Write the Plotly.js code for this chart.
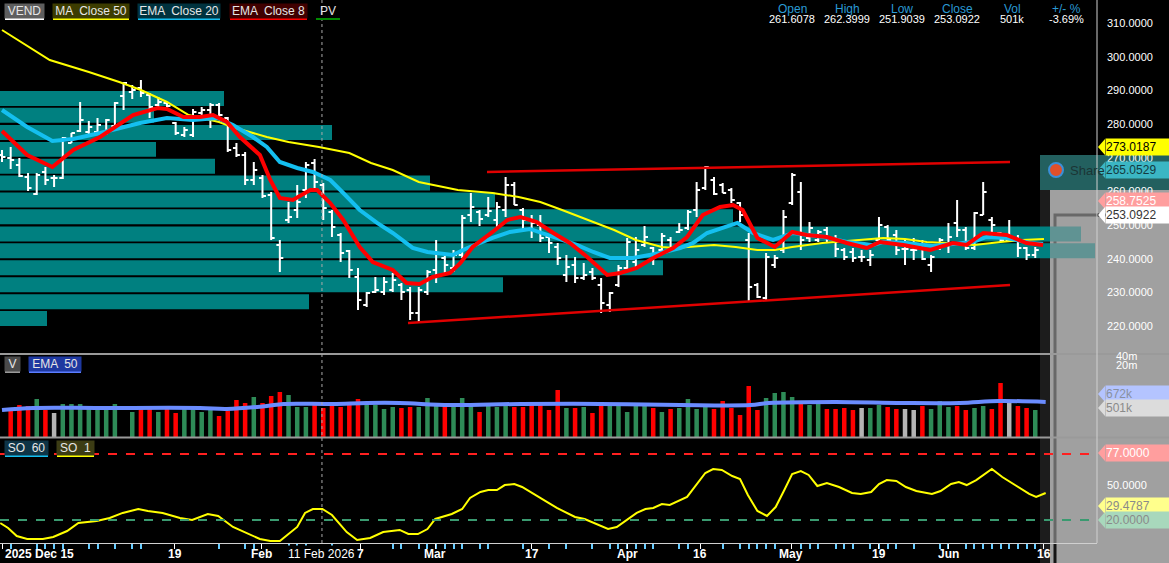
<!DOCTYPE html>
<html><head><meta charset="utf-8">
<script src="https://cdn.plot.ly/plotly-3.0.1.min.js"></script>
<style>html,body{margin:0;padding:0;background:#000;overflow:hidden}#chart{width:1169px;height:563px}</style>
</head><body><div id="chart"></div>
<script>
// ---------- DATA ----------
const highs = [
272.32,273.21,269.94,265.49,265.49,267.27,264.90,276.17,277.36,286.56,
280.92,281.81,281.52,286.56,292.50,291.61,293.09,289.23,288.05,286.56,
280.63,279.14,284.49,285.08,286.27,286.27,282.11,274.39,271.72,268.76,
264.90,259.86,245.61,256.89,261.93,268.76,269.65,262.53,254.51,247.69,
242.65,237.30,230.18,234.63,234.63,235.82,232.85,231.66,231.66,236.71,
245.61,241.16,242.65,253.03,259.56,254.51,258.37,256.89,264.31,262.82,
255.11,253.03,253.03,247.10,244.72,241.16,240.57,238.79,237.30,234.34,
230.18,238.19,246.21,246.50,249.77,243.54,247.69,246.50,250.66,254.51,
262.82,267.57,264.31,262.53,261.04,256.89,247.69,232.85,241.76,241.16,
254.51,265.49,262.82,250.95,248.58,249.47,247.10,243.24,243.24,242.65,
242.65,252.44,250.07,248.58,245.61,246.21,245.61,241.16,246.21,250.66,
257.48,249.47,253.92,262.82,252.44,247.99,251.55,247.10,243.54,243.54];
const lows = [
268.76,266.68,264.31,260.15,258.97,261.93,261.34,263.71,274.39,277.66,
276.17,276.77,276.77,279.14,284.19,287.45,288.05,281.81,285.08,284.78,
276.77,276.17,276.17,282.70,278.85,282.11,271.72,270.24,261.93,261.93,
258.08,245.61,236.12,250.66,252.14,258.08,261.04,251.55,246.50,239.08,
234.34,224.84,225.73,229.88,229.29,230.18,227.81,221.87,220.98,229.29,
232.85,235.82,236.12,240.27,250.95,249.77,252.44,249.47,252.44,256.00,
247.99,246.21,245.02,241.76,238.19,233.15,232.85,233.74,233.74,223.95,
224.25,231.66,236.71,236.71,243.54,238.19,241.76,242.05,247.69,248.58,
252.44,260.45,258.97,259.56,256.59,250.95,227.21,228.40,227.81,237.30,
241.76,256.00,242.65,245.02,245.02,245.02,240.57,239.68,239.08,239.08,
237.90,245.02,244.72,241.16,238.19,239.68,239.68,236.12,242.65,241.76,
246.50,242.65,242.65,253.03,246.50,245.02,245.61,240.57,239.68,240.27];
const opens = [
270.83,269.94,267.87,264.31,259.26,265.79,264.01,264.01,274.39,277.96,
277.66,277.66,277.66,279.44,288.34,289.53,290.72,288.64,285.67,286.27,
280.33,276.77,276.77,283.30,284.19,285.67,281.81,272.91,270.83,263.42,
264.01,258.97,244.13,251.55,254.51,260.45,268.46,261.93,253.92,247.10,
242.35,234.63,226.33,230.18,230.18,230.77,232.26,230.77,223.95,230.18,
236.71,240.27,237.30,241.16,253.03,253.92,253.03,251.55,254.51,261.93,
254.51,251.55,250.07,246.50,243.54,235.22,238.19,234.34,236.12,232.26,
226.33,232.26,237.30,239.08,244.13,243.24,242.65,245.61,247.99,249.18,
254.51,261.04,263.42,261.93,260.45,256.59,245.61,232.26,228.40,238.19,
242.65,256.59,259.86,246.21,245.61,248.58,246.21,242.65,242.05,240.57,
239.68,245.61,249.47,247.10,242.95,242.65,244.13,238.19,243.24,244.13,
250.66,248.58,243.24,253.03,251.55,247.69,245.61,245.61,243.24,241.16];
const closes = [
270.24,269.35,264.60,261.04,264.90,263.42,264.01,275.88,277.36,281.22,
279.14,279.74,281.22,286.27,292.20,290.12,289.23,285.08,286.56,285.38,
277.36,278.25,283.60,284.19,285.67,282.70,272.32,270.83,263.42,266.38,
258.67,246.21,240.27,252.44,256.89,267.87,262.82,255.11,249.47,241.76,
236.71,227.81,229.88,230.77,233.15,233.74,230.18,223.95,230.77,236.12,
241.76,238.19,241.16,252.14,255.40,251.84,254.22,255.40,261.93,256.00,
251.55,250.66,246.21,244.72,240.27,237.60,234.34,235.22,234.34,226.92,
229.88,237.30,245.02,242.65,246.50,241.16,246.80,243.24,248.58,253.92,
260.45,267.27,259.26,259.56,257.48,253.03,231.66,228.70,240.57,240.27,
252.44,264.90,245.61,249.18,247.99,246.21,242.95,240.57,240.27,240.57,
241.16,250.07,245.61,242.65,242.95,242.65,239.98,240.57,245.61,246.50,
248.58,243.24,253.62,259.86,250.07,245.61,245.61,243.24,241.16,242.65];

// volume in thousands; direction u = up, d = down, n = unchanged
const volumes = [
null,499,614,595,730,518,461,634,634,634,
557,557,538,634,null,480,557,557,480,557,
461,557,557,480,518,403,499,710,653,768,
653,787,864,806,576,576,614,557,614,576,
672,730,614,614,538,576,557,576,576,749,
614,576,576,749,614,480,614,576,614,576,
576,614,614,518,902,557,557,576,461,614,
614,614,480,614,614,557,480,538,557,730,
538,614,538,691,557,422,979,518,749,845,
864,768,653,614,653,538,538,557,518,557,
557,614,576,538,538,518,595,538,691,576,
595,518,557,595,538,1037,653,595,557,518];
const volDir = [
'n','d','d','d','u','d','n','u','u','u',
'u','u','u','u','n','u','d','d','u','d',
'd','u','u','u','u','d','d','d','d','u',
'd','d','d','u','u','u','d','d','d','d',
'd','d','u','u','u','u','d','d','u','u',
'u','d','u','u','u','d','u','u','u','d',
'd','d','d','d','d','u','d','u','d','d',
'u','u','u','u','u','d','u','d','u','u',
'u','u','d','d','d','d','d','d','u','u',
'u','u','d','u','u','d','d','d','d','n',
'u','u','d','d','n','n','d','u','u','u',
'd','d','u','u','d','d','n','d','d','u'];

// moving averages (bar index, price)
const ma50X = [0,5.5,10,13.5,16,19,21.5,25,26.5,30.5,33,36.5,40,42.5,45,48,52.5,56.5,59.5,62,64.5,67.5,70.5,73,76,77.5,82,84.5,87,89,91,94.5,98.5,101.5,104,106.5,109,112,115,117.5,120];
const ma50Y = [307.93,299.03,295.47,292.50,290.12,286.56,282.70,280.63,279.14,276.17,274.69,273.21,271.43,268.46,266.38,262.82,260.45,259.56,258.37,256.89,254.51,251.55,248.58,245.61,243.54,243.24,244.13,243.54,242.65,242.65,243.54,244.72,245.61,246.21,245.91,245.02,244.72,244.13,245.02,245.61,245.91];
const ema20X = [0,2.9,5.8,8.2,11.3,15.9,19,22,24.8,26.6,28.9,30.5,32,34,35.8,37.8,39.3,41.2,43.2,45,47.3,49,51.9,53.6,56.5,58.5,60.8,63.5,66.2,68.1,70,72.7,75.8,78.1,79.6,81.2,84.7,86.5,88.8,91.1,94.6,97.3,100.3,101.5,104.2,107.2,110,111.8,113.4,115.7,118.4,119.9];
const ema20Y = [284.19,279.14,274.99,275.58,277.36,280.33,281.81,281.22,281.81,279.74,276.17,273.21,268.76,266.98,265.79,263.42,259.56,254.51,250.66,247.69,243.24,242.05,241.16,243.24,246.21,247.99,248.88,246.50,244.13,242.05,240.27,240.27,241.76,243.24,244.72,247.69,250.66,247.69,245.61,247.69,246.50,245.02,244.13,245.02,244.72,243.83,244.43,245.02,246.50,246.21,244.72,244.43];
const ema8X = [0,2.9,5.8,8.2,11.3,15.1,17.9,19,20.9,22.8,24.3,25.9,27.4,29.7,30.9,32,33.5,35.5,36.3,37.8,39.3,41.2,42.7,45,46.6,48.1,49.6,51.6,52.8,54.2,56.5,58.2,59.7,61.6,63.5,65.4,67.4,69.7,71.2,73.1,75,77.3,78.9,80.7,82.7,84.2,85.3,87,89,91,92.7,95,97.3,99.6,101.1,103.8,106.9,109.5,111.1,113,115.7,118,119.9];
const ema8Y = [277.96,270.83,267.27,272.32,276.17,282.70,284.78,284.49,282.11,282.11,282.70,280.63,276.17,270.83,263.42,258.08,257.48,260.45,260.45,256.59,251.55,243.54,239.08,236.71,232.85,232.55,234.63,235.82,238.79,243.54,247.99,251.55,252.44,250.95,247.69,244.72,240.57,235.22,235.82,237.30,240.27,243.24,246.50,253.03,255.40,256.00,254.51,246.21,243.54,247.99,247.10,246.50,244.72,243.24,245.02,244.13,242.65,244.72,244.13,247.69,247.10,244.72,244.13];

// channel lines
const chanUpX = [55.86,116.09], chanUpY = [265.79,268.76];
const chanLoX = [46.76,116.09], chanLoY = [220.98,232.26];

// volume profile (price bucket, relative volume)
const profilePrice = [287.6,282.6,277.5,272.5,267.5,262.5,257.5,252.5,247.4,242.4,237.4,232.3,227.3,222.3];
const profileVol = [224,154,332,156,215,430,495,733,1081,1095,663,503,309,47];

// volume EMA 50
const volEmaX = [0,3.6,11.3,22.8,25.9,30.5,32.4,38.1,42,45.8,51.6,59.7,68.9,78.1,86.2,88.3,96,103.7,110.3,114.8,120.2];
const volEmaY = [518,557,557,557,538,595,634,634,653,653,614,634,634,614,614,653,672,653,653,691,672];

// stochastic SO 1
const soX = [-0.2,0.7,1.7,2.9,4.7,5.9,7.5,8.8,10.9,12.4,13.9,15.7,16.8,18.5,20.5,21.9,23.7,24.9,26.6,28.2,29.7,30.9,32,34,34.9,35.8,36.9,38,39.7,40.9,42.4,43.9,45.8,46.8,47.9,49,49.9,51.8,53,53.9,55.1,56,57,57.9,59,59.9,61,62.8,63.9,65.1,66,67.1,68.5,69.8,70.8,71.8,73.1,74.1,75,76,76.9,78.9,79.8,81,81.9,82.9,84.1,85,85.9,87,88.1,89.1,90.1,91,92,92.9,93.9,95,96.4,97.9,98.9,100.1,101,101.9,103,104.1,105.3,107.1,108.1,109.3,110.2,111.1,112.2,114,115.2,117.1,118.3,119.1,120.2];
const soY = [17.4,13.1,6.2,3.6,3.6,5.3,10.5,17.4,19.1,21.7,26.1,29.5,27.8,26.1,21.7,20.0,25.2,23.5,14.0,8.8,3.6,1.9,1.9,14.0,26.1,29.5,29.5,24.3,9.6,2.7,4.5,9.6,11.4,7.9,7.9,12.2,20.9,25.2,29.5,39.0,44.2,45.9,45.9,50.2,51.1,48.5,43.3,35.5,30.4,26.1,22.6,20.9,16.6,12.2,14.0,19.1,26.1,29.5,30.4,33.8,33.0,39.9,48.5,60.6,64.0,63.2,58.0,55.4,41.6,27.8,23.5,31.2,45.9,59.7,62.3,58.9,49.4,52.0,48.5,43.3,42.5,44.2,51.1,54.5,53.7,48.5,45.0,42.5,45.0,51.1,52.8,50.2,54.5,64.0,57.1,48.5,42.5,39.9,43.3];

// axis ticks / labels
const dateTickPos = [19.9,29.9,49.9,61,72,80.4,90.9,101,109,120];
const dateTickText = ['19','Feb','Mar','17','Apr','16','May','19','Jun','16'];
const partialLabelPos = 41.3;    // "17" of Feb, mostly hidden by the crosshair date
const partialLabelText = '7';
const minorTickPos = [1,4,5,6,7,10,11,13,15,16,25,28,29,33,34,35,38,45,46,48,49,50,51,52,53,55,56,60,63,65,68,70,71,72,73,74,75,78,79,83,85,86,87,88,89,92,93,94,96,97,98,100,101,102,103,105,108,109,111,112,113,114,115,116,117,118,119];
const priceTicks = [220,230,240,250,260,270,280,290,300,310];
const crossIndex = 36.85;
const crossLabel = '11 Feb 2026';
const firstLabel = '2025 Dec 15';
const soLevels = [77,20];
const header = [['Open','261.6078'],['High','262.3999'],['Low','251.9039'],['Close','253.0922'],['Vol','501k'],['+/- %','-3.69%']];
const callouts = [['273.0187',147,'#ffff00','#000000'],['265.0529',170,'#3bb6c4','#143a40'],['258.7525',201,'#ff9e9e','#ffffff'],['253.0922',215,'#ffffff','#333333'],['672k',394,'#b4c4ff','#8890a0'],['501k',408,'#dcdcdc','#8a8a8a'],['77.0000',453,'#ff9e9e','#ffffff'],['29.4787',506,'#ffff8c','#8a8a8a'],['20.0000',520,'#a8d8bc','#8a8a8a']];

// ---------- BUILD ----------
const PW = 1097, PH = 543;
const X0 = -0.23, X1 = 126.11;
const px = x => x / PW, py = y => 1 - y / PH;
const idx = highs.map((_, i) => i);
const dirColor = {u:'#2e8b57', d:'#ff0000', n:'#b4b4b4'};
const FONT = 'Liberation Sans, Arial, sans-serif';
const profileScale = (X1 - X0) / PW;   // profile units -> bar-index units

const traces = [
  {type:'bar', orientation:'h', x:profileVol.map(v => v * profileScale), y:profilePrice, base:X0, width:4.45, xaxis:'x', yaxis:'y',
   marker:{color:'#008080', line:{width:0}}, hoverinfo:'skip'},
  {type:'scatter', mode:'lines', x:chanUpX, y:chanUpY, line:{color:'#e00000', width:2.5}, xaxis:'x', yaxis:'y', hoverinfo:'skip'},
  {type:'scatter', mode:'lines', x:chanLoX, y:chanLoY, line:{color:'#e00000', width:2.5}, xaxis:'x', yaxis:'y', hoverinfo:'skip'},
  {type:'ohlc', x:idx, open:opens, high:highs, low:lows, close:closes, tickwidth:0.4,
   increasing:{line:{color:'#ffffff', width:2}}, decreasing:{line:{color:'#ffffff', width:2}},
   xaxis:'x', yaxis:'y', hoverinfo:'skip'},
  {type:'scatter', mode:'lines', x:ma50X, y:ma50Y, line:{color:'#ffff00', width:2}, xaxis:'x', yaxis:'y', hoverinfo:'skip'},
  {type:'scatter', mode:'lines', x:ema20X, y:ema20Y, line:{color:'#14bff0', width:4}, xaxis:'x', yaxis:'y', hoverinfo:'skip'},
  {type:'scatter', mode:'lines', x:ema8X, y:ema8Y, line:{color:'#ff0000', width:4}, xaxis:'x', yaxis:'y', hoverinfo:'skip'},
  {type:'bar', x:idx, y:volumes, width:0.52, marker:{color:volDir.map(d => dirColor[d]), line:{width:0}}, xaxis:'x', yaxis:'y2', hoverinfo:'skip'},
  {type:'scatter', mode:'lines', x:volEmaX, y:volEmaY, line:{color:'#6a8cff', width:4, shape:'spline'}, xaxis:'x', yaxis:'y2', hoverinfo:'skip'},
  {type:'scatter', mode:'lines', x:soX, y:soY, line:{color:'#ffff00', width:2}, xaxis:'x', yaxis:'y3', hoverinfo:'skip'}
];

const shapes = [];
const annotations = [];
function rectP(x0,y0,x1,y1,fill,layer,line){ shapes.push({type:'rect',xref:'paper',yref:'paper',x0:px(x0),x1:px(x1),y0:py(y1),y1:py(y0),fillcolor:fill,line:line||{width:0},layer:layer||'below'}); }
function lineP(x0,y0,x1,y1,color,width,dash,layer){ shapes.push({type:'line',xref:'paper',yref:'paper',x0:px(x0),x1:px(x1),y0:py(y0),y1:py(y1),line:{color:color,width:width,dash:dash||'solid'},layer:layer||'above'}); }
function textP(x,y,text,opts){ annotations.push(Object.assign({xref:'paper',yref:'paper',x:px(x),y:py(y),text:text,showarrow:false,xanchor:'center',yanchor:'middle',font:{family:FONT,size:11,color:'#ffffff'}},opts||{})); }

// ShareX window behind everything
rectP(1040,155,1169,563,'#23605f');
rectP(1040,190,1050,563,'#1c1c1c');
rectP(1050,190,1169,563,'#a0a0a0');
rectP(1055,215,1175,570,'rgba(0,0,0,0)','below',{color:'#151515',width:3});
shapes.push({type:'circle',xref:'paper',yref:'paper',x0:px(1049),x1:px(1063),y0:py(177),y1:py(163),fillcolor:'#e0502a',line:{color:'#3a8fd8',width:2},layer:'below'});
textP(1068,171,'ShareX - After captu',{xanchor:'left',font:{family:FONT,size:13,color:'#1b3535'}});
// window tint over the plot part
rectP(1050,190,1097,543,'rgba(160,160,160,0.6)','above');

// panel dividers and frame
lineP(0,354,1169,354,'#9a9a9a',2);
lineP(0,437.5,1169,437.5,'#9a9a9a',2);
lineP(1097,0,1097,543,'#d0d0d0',1);

// stochastic levels
soLevels.forEach((lv,k) => shapes.push({type:'line',xref:'paper',yref:'y3',x0:0,x1:1,y0:lv,y1:lv,
  line:{color:k===0?'#ff2020':'#3a9a70',width:2,dash:'dash'},layer:'above'}));
// crosshair
shapes.push({type:'line',xref:'x',yref:'paper',x0:crossIndex,x1:crossIndex,y0:0,y1:1,line:{color:'#aaaaaa',width:1,dash:'dot'},layer:'above'});

// legend boxes
function legendBox(text,x0,x1,yTop,yBot,bg,ul,fg){
  textP((x0+x1)/2,(yTop+yBot)/2,text,{width:x1-x0,height:yBot-yTop,bgcolor:bg,font:{family:FONT,size:12,color:fg||'#e6e6e6'},borderpad:0});
  lineP(x0,yBot+1,x1,yBot+1,ul,2);
}
legendBox('VEND',5,44,4,18,'#5e5e5e','#ffffff');
legendBox('MA  Close 50',53,129,4,18,'#3c3c00','#ffff00');
legendBox('EMA  Close 20',138,220,4,18,'#00323e','#14bff0');
legendBox('EMA  Close 8',230,307,4,18,'#400000','#ff0000');
legendBox('PV',316,340,4,18,'rgba(0,0,0,0)','#008a00');
legendBox('V',5,20,357,371,'#4a4a4a','#9a9a9a');
legendBox('EMA  50',29,81,357,371,'#1e38a0','#5a7cff');
legendBox('SO  60',5,48,441,455,'#0e3446','#14bff0');
legendBox('SO  1',57,94,441,455,'#3c3c14','#ffff00');

// header values
const headerX = [792,847,902,957,1012,1066];
header.forEach((h,k) => {
  textP(headerX[k],9,h[0],{font:{family:FONT,size:12,color:'#2a9ad4'}});
  textP(headerX[k],19,h[1],{font:{family:FONT,size:11,color:'#ffffff'}});
});

// callouts on the right axis
callouts.forEach(c => {
  const y = c[1];
  shapes.push({type:'path',xref:'paper',yref:'paper',path:`M ${px(1098)} ${py(y)} L ${px(1105)} ${py(y-8)} L ${px(1105)} ${py(y+8)} Z`,fillcolor:c[2],line:{width:0},layer:'above'});
  textP(1105,y,c[0],{xanchor:'left',width:64,height:16,align:'left',bgcolor:c[2],borderpad:0,font:{family:FONT,size:12,color:c[3]}});
});
textP(1114,356,'40m',{xanchor:'left',font:{family:FONT,size:11,color:'#ffffff'}});
textP(1114,365,'20m',{xanchor:'left',font:{family:FONT,size:11,color:'#ffffff'}});

// date labels along the bottom (drawn as text on the x scale)
const dateFont = {family:FONT,size:12,color:'#ffffff'};
dateTickPos.forEach((p,k) => annotations.push({xref:'x',yref:'paper',x:p,y:py(554),text:'<b>'+dateTickText[k]+'</b>',showarrow:false,xanchor:'center',yanchor:'middle',font:dateFont}));
annotations.push({xref:'x',yref:'paper',x:partialLabelPos,y:py(554),text:'<b>'+partialLabelText+'</b>',showarrow:false,xanchor:'center',yanchor:'middle',font:dateFont});
textP(3,554,'<b>'+firstLabel+'</b>',{xanchor:'left',font:dateFont});
annotations.push({xref:'x',yref:'paper',x:crossIndex,y:py(554),text:crossLabel,showarrow:false,xanchor:'center',yanchor:'middle',bgcolor:'#000000',font:dateFont});

const layout = {
  width:1169, height:563, margin:{l:0,r:72,t:0,b:20,pad:0},
  paper_bgcolor:'#000000', plot_bgcolor:'rgba(0,0,0,0)',
  showlegend:false, hovermode:false, dragmode:false, barmode:'overlay',
  font:{family:FONT,color:'#ffffff',size:11},
  xaxis:{domain:[0,1], range:[X0,X1], anchor:'y3', tickmode:'array', tickvals:dateTickPos.concat([0, partialLabelPos]),
    showticklabels:false, ticks:'outside', ticklen:5, tickcolor:'#ffffff', tickwidth:1,
    showline:true, linecolor:'#d0d0d0', linewidth:1,
    showgrid:false, zeroline:false, rangeslider:{visible:false}, fixedrange:true,
    minor:{tickmode:'array', tickvals:minorTickPos, ticks:'outside', ticklen:5, tickcolor:'#66ccff', tickwidth:2, showgrid:false}},
  yaxis:{domain:[0.3481,1], range:[211.78,316.83], side:'right', anchor:'x', tickmode:'array', tickvals:priceTicks,
    ticktext:priceTicks.map(v => v.toFixed(4)), ticks:'', ticklabelstandoff:9, showgrid:false, zeroline:false,
    tickfont:{family:FONT,size:11,color:'#ffffff'}, fixedrange:true},
  yaxis2:{domain:[0.1952,0.3481], range:[0,1593.6], anchor:'x', showticklabels:false, ticks:'', showgrid:false, zeroline:false, fixedrange:true},
  yaxis3:{domain:[0,0.1952], range:[0.14,91.68], side:'right', anchor:'x', tickmode:'array', tickvals:[50], ticktext:['50.0000'],
    ticks:'', ticklabelstandoff:9, showgrid:false, zeroline:false, tickfont:{family:FONT,size:11,color:'#ffffff'}, fixedrange:true},
  shapes:shapes, annotations:annotations
};

Plotly.newPlot('chart', traces, layout, {staticPlot:true, displayModeBar:false});
</script>
</body></html>
